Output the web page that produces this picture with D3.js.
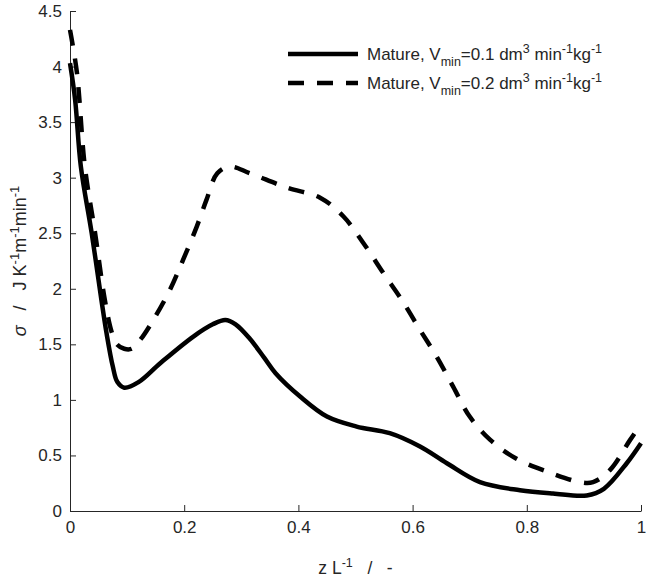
<!DOCTYPE html>
<html>
<head>
<meta charset="utf-8">
<script src="https://cdn.jsdelivr.net/npm/d3@7"></script>
<style>
  body { margin: 0; background: #fff; }
  text { font-family: "Liberation Sans", Arial, sans-serif; fill: #262626; }
</style>
</head>
<body>
<svg id="chart" width="646" height="577"></svg>
<script>
// Data
const xSolid = [0, 0.009, 0.019, 0.038, 0.055, 0.064, 0.075, 0.083, 0.095, 0.12, 0.158, 0.216, 0.25, 0.272,
  0.29, 0.315, 0.34, 0.36, 0.403, 0.45, 0.502, 0.56, 0.613, 0.66, 0.718, 0.788, 0.846, 0.905, 0.935, 0.975, 1.0];
const ySolid = [4.03, 3.70, 3.10, 2.50, 1.90, 1.60, 1.30, 1.16, 1.11, 1.16, 1.33, 1.57, 1.68, 1.72,
  1.68, 1.55, 1.38, 1.24, 1.03, 0.85, 0.76, 0.70, 0.58, 0.43, 0.26, 0.187, 0.157, 0.14, 0.2, 0.43, 0.61];

const xDash = [0, 0.012, 0.026, 0.044, 0.061, 0.073, 0.082, 0.095, 0.108, 0.123, 0.146, 0.175, 0.198, 0.222,
  0.239, 0.258, 0.28, 0.315, 0.38, 0.438, 0.479, 0.514, 0.549, 0.581, 0.613, 0.642, 0.671, 0.70, 0.736,
  0.782, 0.838, 0.893, 0.916, 0.946, 0.981, 1.0];
const yDash = [4.33, 3.95, 3.10, 2.50, 1.90, 1.61, 1.50, 1.46, 1.46, 1.54, 1.72, 1.99, 2.26, 2.56,
  2.80, 3.04, 3.10, 3.04, 2.91, 2.82, 2.65, 2.41, 2.14, 1.90, 1.63, 1.39, 1.12, 0.85, 0.64,
  0.47, 0.35, 0.26, 0.26, 0.37, 0.64, 0.78];

const xTicks = [0, 0.2, 0.4, 0.6, 0.8, 1];
const yTicks = [0, 0.5, 1, 1.5, 2, 2.5, 3, 3.5, 4, 4.5];

const series = [
  { name: "0.1", x: xSolid, y: ySolid, dash: null },
  { name: "0.2", x: xDash, y: yDash, dash: "16,13" }
];

const svg = d3.select("#chart");
const mLeft = 70, mRight = 641, mTop = 11, mBottom = 511;

const x = d3.scaleLinear().domain([0, 1]).range([mLeft, mRight]);
const y = d3.scaleLinear().domain([0, 4.5]).range([mBottom, mTop]);

// axes (ticks inward, matlab style)
const xAxis = svg.append("g")
  .attr("transform", `translate(0,${mBottom})`)
  .call(d3.axisBottom(x).tickValues(xTicks).tickFormat(d => d).tickSize(-6).tickSizeOuter(0).tickPadding(14));
const yAxis = svg.append("g")
  .attr("transform", `translate(${mLeft},0)`)
  .call(d3.axisLeft(y).tickValues(yTicks).tickFormat(d => d).tickSize(-6).tickSizeOuter(0).tickPadding(8));

[xAxis, yAxis].forEach(g => {
  g.select(".domain").attr("stroke", "#262626").attr("stroke-width", 1);
  g.selectAll(".tick line").attr("stroke", "#262626");
  g.selectAll(".tick text").style("font-size", "17px").attr("fill", "#262626");
});
xAxis.selectAll(".tick text").attr("dy", "0.45em");

// curves
const line = d3.line()
  .x(d => x(d[0]))
  .y(d => y(d[1]))
  .curve(d3.curveCatmullRom.alpha(0.5));

series.forEach(s => {
  svg.append("path")
    .datum(d3.zip(s.x, s.y))
    .attr("d", line)
    .attr("fill", "none")
    .attr("stroke", "#000")
    .attr("stroke-width", 4.5)
    .attr("stroke-dasharray", s.dash);
});

// legend
const legend = svg.append("g");
series.forEach((s, i) => {
  const ly = 54 + i * 29;
  legend.append("line")
    .attr("x1", 288).attr("x2", 358)
    .attr("y1", ly).attr("y2", ly)
    .attr("stroke", "#000")
    .attr("stroke-width", 4.5)
    .attr("stroke-dasharray", s.dash);
  const t = legend.append("text")
    .attr("x", 367).attr("y", ly + 6)
    .style("font-size", "17px");
  t.append("tspan").text("Mature, V");
  t.append("tspan").attr("dy", 6).style("font-size", "12.5px").text("min");
  t.append("tspan").attr("dy", -6).text(`=${s.name} dm`);
  t.append("tspan").attr("dy", -7).style("font-size", "12.5px").text("3");
  t.append("tspan").attr("dy", 7).text(" min");
  t.append("tspan").attr("dy", -7).style("font-size", "12.5px").text("-1");
  t.append("tspan").attr("dy", 7).text("kg");
  t.append("tspan").attr("dy", -7).style("font-size", "12.5px").text("-1");
});

// axis labels
const xl = svg.append("text")
  .attr("x", (mLeft + mRight) / 2).attr("y", 574)
  .attr("text-anchor", "middle")
  .style("white-space", "pre")
  .style("font-size", "17.5px");
xl.append("tspan").text("z L");
xl.append("tspan").attr("dy", -7).style("font-size", "12.5px").text("-1");
xl.append("tspan").attr("dy", 7).text("   /   -");

const yl = svg.append("text")
  .attr("transform", `translate(26,${(mTop + mBottom) / 2}) rotate(-90)`)
  .attr("text-anchor", "middle")
  .style("white-space", "pre")
  .style("font-size", "18px");
yl.append("tspan").style("font-style", "italic").text("σ");
yl.append("tspan").text("   /   J K");
yl.append("tspan").attr("dy", -7).style("font-size", "13px").text("-1");
yl.append("tspan").attr("dy", 7).text("m");
yl.append("tspan").attr("dy", -7).style("font-size", "13px").text("-1");
yl.append("tspan").attr("dy", 7).text("min");
yl.append("tspan").attr("dy", -7).style("font-size", "13px").text("-1");
</script>
</body>
</html>
